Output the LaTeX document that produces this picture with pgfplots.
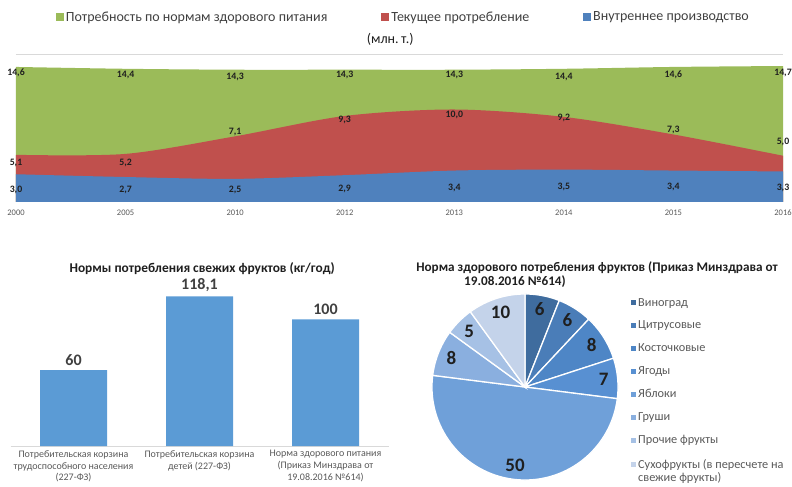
\documentclass[border=0pt]{standalone}
\usepackage{pgfplots}
\pgfplotsset{compat=1.18}
\usepackage{fontspec}
\setmainfont{Carlito}
\definecolor{cgreen}{HTML}{9BBB59}
\definecolor{cred}{HTML}{C0504D}
\definecolor{cblue}{HTML}{4F81BD}
\definecolor{cbar}{HTML}{5B9BD5}
\definecolor{txt}{HTML}{404040}
\definecolor{txt2}{HTML}{595959}
\definecolor{lab}{HTML}{1F1F1F}
\definecolor{p1}{HTML}{3F6C9E}
\definecolor{p2}{HTML}{4A7DB8}
\definecolor{p3}{HTML}{4E86C6}
\definecolor{p4}{HTML}{5890D2}
\definecolor{p5}{HTML}{6FA0D9}
\definecolor{p6}{HTML}{8AAFDF}
\definecolor{p7}{HTML}{A6C1E5}
\definecolor{p8}{HTML}{C4D3EA}
\pgfplotsset{/pgf/number format/assume math mode=true}
\begin{document}
\begin{tikzpicture}
%================ TOP: area chart ================
\begin{axis}[
  at={(16bp,285bp)}, anchor=south west,
  scale only axis, width=767bp, height=148bp,
  xmin=0, xmax=7, ymin=0, ymax=16,
  axis line style={draw=none},
  ytick={16}, yticklabels={}, ymajorgrids, grid style={draw=black!15, line width=0.8bp},
  major tick length=0,
  xtick={0,...,7},
  xticklabels={2000,2005,2010,2012,2013,2014,2015,2016},
  xticklabel style={font=\fontsize{8.5bp}{9.5bp}\selectfont, text=txt2, yshift=-4bp},
  legend columns=3,
  legend style={at={(0.505,1.25)}, anchor=center, draw=none, fill=none,
    font=\fontsize{14bp}{16bp}\selectfont, text=txt,
    /tikz/every even column/.append style={column sep=52bp}},
  legend image code/.code={\fill[#1,draw=none] (0bp,-4bp) rectangle (8bp,4bp);},
  title={(млн.\,т.)},
  title style={at={(0.488,1.06)}, anchor=center, font=\fontsize{14bp}{16bp}\selectfont, text=lab},
  clip=false,
]
\addplot[fill=cgreen, draw=none, smooth] coordinates {
 (0,14.6) (1,14.4) (2,14.3) (3,14.3) (4,14.3) (5,14.4) (6,14.6) (7,14.7)} \closedcycle;
\addlegendentry{Потребность по нормам здорового питания}
\addplot[fill=cred, draw=none, smooth] coordinates {
 (0,5.1) (1,5.2) (2,7.1) (3,9.3) (4,10.0) (5,9.2) (6,7.3) (7,5.0)} \closedcycle;
\addlegendentry{Текущее протребление}
\addplot[fill=cblue, draw=none, smooth] coordinates {
 (0,3.0) (1,2.7) (2,2.5) (3,2.9) (4,3.4) (5,3.5) (6,3.4) (7,3.3)} \closedcycle;
\addlegendentry{Внутреннее производство}
% data labels
\addplot[forget plot, only marks, mark=none, nodes near coords, point meta=explicit symbolic,
  nodes near coords style={anchor=center, font=\bfseries\fontsize{9.8bp}{11bp}\selectfont, text=lab}]
  table[meta=label] {
x y label
0 14.0 14,6
1 13.7 14,4
2 13.5 14,3
3 13.7 14,3
4 13.7 14,3
5 13.5 14,4
6 13.7 14,6
7 13.9 14,7
0 4.2 5,1
1 4.2 5,2
2 7.6 7,1
3 8.9 9,3
4 9.4 10,0
5 9.1 9,2
6 7.8 7,3
7 6.5 5,0
0 1.35 3,0
1 1.35 2,7
2 1.25 2,5
3 1.4 2,9
4 1.5 3,4
5 1.6 3,5
6 1.6 3,4
7 1.5 3,3
};
\end{axis}
%================ BOTTOM LEFT: bar chart ================
\begin{axis}[
  at={(10.5bp,41bp)}, anchor=south west,
  scale only axis, width=378bp, height=177.3bp,
  xmin=-0.5, xmax=2.5, ymin=0, ymax=140,
  axis x line=bottom, axis y line=none,
  x axis line style={-, draw=black!15, line width=0.8bp},
  major tick length=0,
  xtick={0,1,2},
  xticklabels={{Потребительская корзина\\трудоспособного населения\\(227-ФЗ)},
               {Потребительская корзина\\детей (227-ФЗ)},
               {Норма здорового питания\\(Приказ Минздрава от\\19.08.2016 №614)}},
  xticklabel style={align=center, font=\fontsize{10bp}{11.8bp}\selectfont, text=txt2, yshift=-1bp},
  ybar, bar width=67bp,
  nodes near coords={\pgfmathprintnumber[use comma,fixed]{\pgfplotspointmeta}},
  nodes near coords style={font=\bfseries\fontsize{16bp}{18bp}\selectfont, text=txt, yshift=1bp},
  title={Нормы потребления свежих фруктов (кг/год)},
  title style={at={(0.507,1.004)}, anchor=center, yshift=-7bp, font=\bfseries\fontsize{13.4bp}{15bp}\selectfont, text=lab},
  clip=false,
]
\addplot[fill=cbar, draw=none] coordinates {(0,60) (1,118.1) (2,100)};
\end{axis}
%================ BOTTOM RIGHT: pie chart ================
\node[font=\bfseries\fontsize{13.2bp}{15bp}\selectfont, text=lab] at (597bp,219bp)
  {Норма здорового потребления фруктов (Приказ Минздрава от};
\node[font=\bfseries\fontsize{13.2bp}{15bp}\selectfont, text=lab] at (515bp,205bp)
  {19.08.2016 №614)};
\begin{axis}[
  at={(425bp,0bp)}, anchor=south west,
  scale only axis, width=200bp, height=200bp,
  xmin=-1.075, xmax=1.075, ymin=-1.075, ymax=1.075,
  hide axis, clip=false,
  legend style={at={(1.015,0.965)}, anchor=north west, draw=none, fill=none,
    font=\fontsize{12.3bp}{14bp}\selectfont, text=txt2, row sep=9.4bp,
    cells={anchor=west}},
  legend image code/.code={\fill[#1,draw=none] (0bp,-2.5bp) rectangle (5bp,2.5bp);},
]
% values: 6, 6, 8, 7, 50, 8, 5, 10 (clockwise from top, 3.6 deg per unit)
\addplot[fill=p1, draw=white, line width=1.3bp, domain=68.4:90, samples=20] ({cos(x)},{sin(x)}) -- (0,0) -- cycle;
\addlegendentry{Виноград}
\addplot[fill=p2, draw=white, line width=1.3bp, domain=46.8:68.4, samples=20] ({cos(x)},{sin(x)}) -- (0,0) -- cycle;
\addlegendentry{Цитрусовые}
\addplot[fill=p3, draw=white, line width=1.3bp, domain=18:46.8, samples=20] ({cos(x)},{sin(x)}) -- (0,0) -- cycle;
\addlegendentry{Косточковые}
\addplot[fill=p4, draw=white, line width=1.3bp, domain=-7.2:18, samples=20] ({cos(x)},{sin(x)}) -- (0,0) -- cycle;
\addlegendentry{Ягоды}
\addplot[fill=p5, draw=white, line width=1.3bp, domain=-187.2:-7.2, samples=90] ({cos(x)},{sin(x)}) -- (0,0) -- cycle;
\addlegendentry{Яблоки}
\addplot[fill=p6, draw=white, line width=1.3bp, domain=-216:-187.2, samples=20] ({cos(x)},{sin(x)}) -- (0,0) -- cycle;
\addlegendentry{Груши}
\addplot[fill=p7, draw=white, line width=1.3bp, domain=-234:-216, samples=20] ({cos(x)},{sin(x)}) -- (0,0) -- cycle;
\addlegendentry{Прочие фрукты}
\addplot[fill=p8, draw=white, line width=1.3bp, domain=-270:-234, samples=20] ({cos(x)},{sin(x)}) -- (0,0) -- cycle;
\addlegendentry{\raisebox{0pt}[\height][0pt]{\begin{tabular}[t]{@{}l@{}}Сухофрукты (в пересчете на\\[-0.5bp]свежие фрукты)\end{tabular}}}
\addplot[forget plot, only marks, mark=none, nodes near coords, point meta=explicit symbolic,
  nodes near coords style={anchor=center, font=\bfseries\fontsize{19bp}{21bp}\selectfont, text=lab}]
  table[meta=label] {
x y label
0.159 0.835 6
0.455 0.718 6
0.718 0.455 8
0.846 0.080 7
-0.107 -0.843 50
-0.790 0.313 8
-0.601 0.601 5
-0.263 0.808 10
};
\end{axis}
\pgfresetboundingbox
\useasboundingbox (0bp,0bp) rectangle (792bp,487bp);
\end{tikzpicture}
\end{document}
